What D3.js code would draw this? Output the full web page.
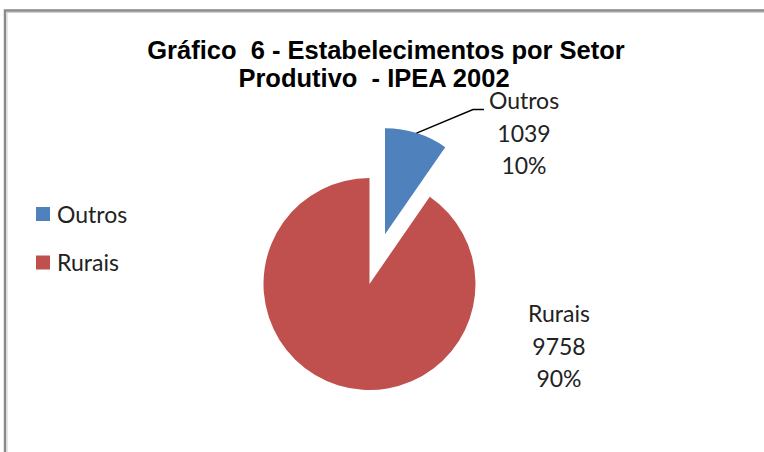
<!DOCTYPE html>
<html>
<head>
<meta charset="utf-8">
<script src="https://cdn.jsdelivr.net/npm/d3@7"></script>
<style>
  html, body { margin: 0; padding: 0; background: #fff; }
  svg { display: block; }
  .title { font-family: 'Liberation Sans', Arial, sans-serif; font-weight: bold; font-size: 25.5px; fill: #000; white-space: pre; }
  .lbl { font-family: Lato, 'Open Sans', sans-serif; font-size: 23px; fill: #222; }
</style>
</head>
<body>
<div id="chart"></div>
<script>
// Chart data
const categories = ['Outros', 'Rurais'];
const values = [1039, 9758];
const colors = ['#4F81BD', '#C0504D'];
const titleLines = ['Gráfico  6 - Estabelecimentos por Setor', 'Produtivo  - IPEA 2002'];

const width = 764;
const height = 452;
const cx = 369.5, cy = 284, radius = 106;
const explode = 52; // Outros slice pulled out

const svg = d3.select('#chart')
  .append('svg')
  .attr('width', width)
  .attr('height', height);

// chart area border (only top and left visible)
svg.append('rect')
  .attr('x', 5).attr('y', 10.5)
  .attr('width', width + 20).attr('height', height + 20)
  .attr('fill', 'none')
  .attr('stroke', '#8a8a8a')
  .attr('stroke-width', 2.5);
svg.append('rect')
  .attr('x', 7).attr('y', 12.5)
  .attr('width', width + 20).attr('height', height + 20)
  .attr('fill', 'none')
  .attr('stroke', '#cfcfcf')
  .attr('stroke-width', 1);

// title
const titleX = [386, 374];
const titleY = [59, 87];
svg.selectAll('text.title')
  .data(titleLines)
  .enter()
  .append('text')
  .attr('class', 'title')
  .attr('text-anchor', 'middle')
  .attr('x', (d, i) => titleX[i])
  .attr('y', (d, i) => titleY[i])
  .text(d => d);

const data = categories.map((c, i) => ({ name: c, value: values[i], color: colors[i] }));
const total = d3.sum(values);

const pie = d3.pie()
  .sort(null)
  .value(d => d.value)
  .startAngle(0)
  .endAngle(2 * Math.PI);

const arcs = pie(data);
const arc = d3.arc().innerRadius(0).outerRadius(radius);

// offset for exploded slice
function offset(d) {
  if (d.data.name !== 'Outros') return [0, 0];
  const a = (d.startAngle + d.endAngle) / 2;
  return [Math.sin(a) * explode, -Math.cos(a) * explode];
}

const g = svg.append('g').attr('transform', `translate(${cx},${cy})`);

g.selectAll('path')
  .data(arcs)
  .enter()
  .append('path')
  .attr('d', arc)
  .attr('fill', d => d.data.color)
  .attr('transform', d => `translate(${offset(d)})`);

// data labels
const labelPos = {
  Outros: { x: 524, y: 109 },
  Rurais: { x: 559, y: 322 }
};
const lineGap = 32.5;

arcs.forEach(d => {
  const p = labelPos[d.data.name];
  const pct = Math.round(d.data.value / total * 100) + '%';
  const lines = [d.data.name, String(d.data.value), pct];
  svg.append('g')
    .selectAll('text')
    .data(lines)
    .enter()
    .append('text')
    .attr('class', 'lbl')
    .attr('text-anchor', 'middle')
    .attr('x', p.x)
    .attr('y', (t, i) => p.y + i * lineGap)
    .text(t => t);
});

// leader line for Outros
const outros = arcs[0];
const mid = (outros.startAngle + outros.endAngle) / 2;
const off = offset(outros);
const sx = cx + off[0] + Math.sin(mid) * radius;
const sy = cy + off[1] - Math.cos(mid) * radius;
svg.append('path')
  .attr('d', d3.line()([[sx, sy], [473, 109.5], [484, 109.5]]))
  .attr('fill', 'none')
  .attr('stroke', '#000')
  .attr('stroke-width', 1.5);

// legend
const legend = svg.append('g').attr('transform', 'translate(36,207)');
const item = legend.selectAll('g')
  .data(data)
  .enter()
  .append('g')
  .attr('transform', (d, i) => `translate(0,${i * 48.5})`);
item.append('rect')
  .attr('width', 14).attr('height', 14)
  .attr('fill', d => d.color);
item.append('text')
  .attr('class', 'lbl')
  .attr('x', 21)
  .attr('y', 15.5)
  .text(d => d.name);
</script>
</body>
</html>
